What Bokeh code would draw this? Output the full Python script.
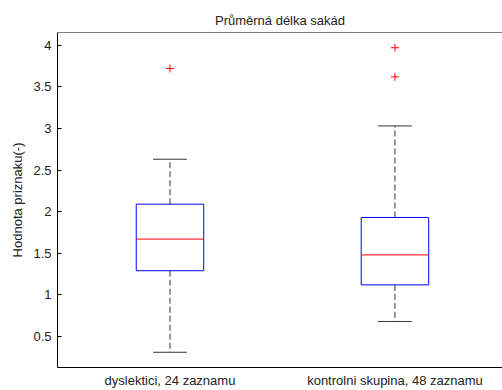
from bokeh.plotting import figure
from bokeh.models import Range1d, FixedTicker, NumeralTickFormatter, Span
from bokeh.embed import file_html
from bokeh.resources import INLINE

# Box plot summary per group
groups = ["dyslektici, 24 zaznamu", "kontrolni skupina, 48 zaznamu"]
positions = [1, 2]
q1 = [1.29, 1.12]
median = [1.67, 1.48]
q3 = [2.09, 1.93]
whisker_low = [0.31, 0.68]
whisker_high = [2.63, 3.03]

# Outliers: group position and value
outlier_pos = [1, 2, 2]
outlier_val = [3.72, 3.97, 3.62]

FONT = "Liberation Sans"
TEXT = "#222222"
BOX_W = 0.3
CAP_W = 0.15

# y limits padded 5% beyond the extreme plotted values
lo = min(whisker_low + outlier_val)
hi = max(whisker_high + outlier_val)
pad = 0.05 * (hi - lo)

p = figure(width=502, height=390, output_backend="svg", toolbar_location=None,
           x_range=Range1d(0.5, 2.478), y_range=Range1d(lo - pad, hi + pad),
           min_border_left=57, min_border_right=0, min_border_top=32, min_border_bottom=21,
           title="Průměrná délka sakád")
p.title.align = "center"
p.title.text_font = FONT
p.title.text_font_size = "13px"
p.title.text_font_style = "normal"
p.title.text_color = TEXT
p.outline_line_color = None
p.grid.visible = False
p.background_fill_color = "white"
p.border_fill_color = "white"

# top border of the axes box
p.add_layout(Span(location=hi + pad, dimension="width", line_color="black", line_width=1))

# whiskers
x0 = [x for x in positions]
p.segment(x0=positions, y0=q3, x1=positions, y1=whisker_high,
          line_color="#333333", line_width=1, line_dash="6 3")
p.segment(x0=positions, y0=q1, x1=positions, y1=whisker_low,
          line_color="#333333", line_width=1, line_dash="6 3")
# whisker caps
cap_l = [x - CAP_W / 2 for x in positions]
cap_r = [x + CAP_W / 2 for x in positions]
p.segment(x0=cap_l, y0=whisker_high, x1=cap_r, y1=whisker_high, line_color="#333333", line_width=1)
p.segment(x0=cap_l, y0=whisker_low, x1=cap_r, y1=whisker_low, line_color="#333333", line_width=1)

# boxes
box_l = [x - BOX_W / 2 for x in positions]
box_r = [x + BOX_W / 2 for x in positions]
p.quad(left=box_l, right=box_r, bottom=q1, top=q3, fill_color=None,
       line_color="#0000ff", line_width=1)
# medians
p.segment(x0=box_l, y0=median, x1=box_r, y1=median, line_color="#ff0000", line_width=1)

# outliers
p.scatter(outlier_pos, outlier_val, marker="cross", size=8, line_color="#ff0000", line_width=1)

# axes
p.yaxis.ticker = FixedTicker(ticks=[0.5, 1, 1.5, 2, 2.5, 3, 3.5, 4])
p.yaxis.formatter = NumeralTickFormatter(format="0.[0]")
p.yaxis.axis_label = "Hodnota priznaku(-)"
p.yaxis.major_tick_in = 4
p.yaxis.major_tick_out = 0
p.yaxis.minor_tick_line_color = None
p.yaxis.major_label_standoff = 6
p.yaxis.axis_label_standoff = 5

p.xaxis.ticker = FixedTicker(ticks=positions)
p.xaxis.major_label_overrides = {pos: g for pos, g in zip(positions, groups)}
p.xaxis.major_tick_in = 0
p.xaxis.major_tick_out = 0
p.xaxis.minor_tick_line_color = None
p.xaxis.major_label_standoff = 5

for ax in (p.xaxis[0], p.yaxis[0]):
    ax.axis_line_color = "black"
    ax.major_tick_line_color = "black"
    ax.major_label_text_font = FONT
    ax.major_label_text_font_size = "13px"
    ax.major_label_text_color = TEXT
    ax.axis_label_text_font = FONT
    ax.axis_label_text_font_size = "13px"
    ax.axis_label_text_font_style = "normal"
    ax.axis_label_text_color = TEXT

open("out.html", "w").write(file_html(p, INLINE))
